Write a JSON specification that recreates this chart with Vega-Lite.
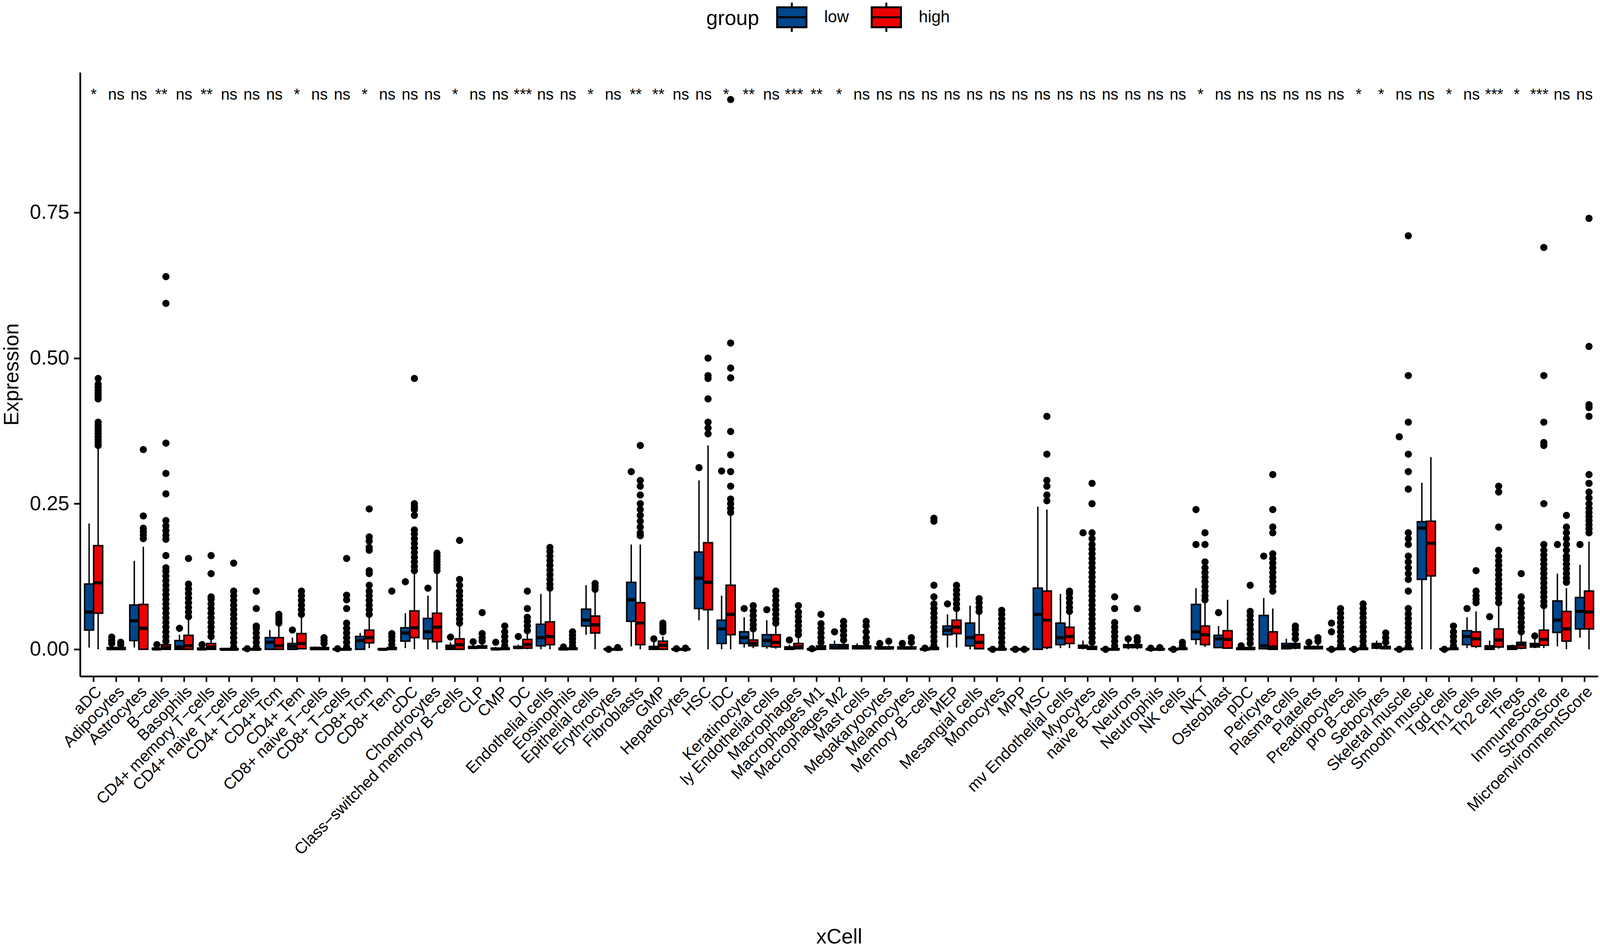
{
"$schema":"https://vega.github.io/schema/vega-lite/v6.json",
"width":3886,"height":1546,
"autosize":{"type":"none"},
"padding":{"left":205,"top":185,"right":5,"bottom":693},
"background":"white",
"config":{"view":{"stroke":null},"font":"Liberation Sans"},
"datasets":{
"box":[
{"cell":"aDC","group":"low","lo":0.003,"q1":0.033,"med":0.064,"q3":0.112,"hi":0.216},
{"cell":"aDC","group":"high","lo":0,"q1":0.062,"med":0.114,"q3":0.178,"hi":0.345},
{"cell":"Adipocytes","group":"low","lo":0,"q1":0,"med":0.001,"q3":0.003,"hi":0.006},
{"cell":"Adipocytes","group":"high","lo":0,"q1":0,"med":0.001,"q3":0.003,"hi":0.005},
{"cell":"Astrocytes","group":"low","lo":0.003,"q1":0.015,"med":0.049,"q3":0.076,"hi":0.152},
{"cell":"Astrocytes","group":"high","lo":0,"q1":0,"med":0.036,"q3":0.077,"hi":0.176},
{"cell":"B−cells","group":"low","lo":0,"q1":0,"med":0.0005,"q3":0.002,"hi":0.004},
{"cell":"B−cells","group":"high","lo":0,"q1":0,"med":0.003,"q3":0.008,"hi":0.012},
{"cell":"Basophils","group":"low","lo":0,"q1":0,"med":0.004,"q3":0.015,"hi":0.025},
{"cell":"Basophils","group":"high","lo":0,"q1":0,"med":0.006,"q3":0.024,"hi":0.052},
{"cell":"CD4+ memory T−cells","group":"low","lo":0,"q1":0,"med":0.0005,"q3":0.002,"hi":0.004},
{"cell":"CD4+ memory T−cells","group":"high","lo":0,"q1":0,"med":0.004,"q3":0.01,"hi":0.02},
{"cell":"CD4+ naive T−cells","group":"low","lo":0,"q1":0,"med":0,"q3":0.001,"hi":0.002},
{"cell":"CD4+ naive T−cells","group":"high","lo":0,"q1":0,"med":0,"q3":0.001,"hi":0.002},
{"cell":"CD4+ T−cells","group":"low","lo":0,"q1":0,"med":0,"q3":0.0005,"hi":0.001},
{"cell":"CD4+ T−cells","group":"high","lo":0,"q1":0,"med":0,"q3":0.001,"hi":0.002},
{"cell":"CD4+ Tcm","group":"low","lo":0,"q1":0,"med":0.012,"q3":0.02,"hi":0.033},
{"cell":"CD4+ Tcm","group":"high","lo":0,"q1":0,"med":0.006,"q3":0.02,"hi":0.04},
{"cell":"CD4+ Tem","group":"low","lo":0,"q1":0,"med":0.005,"q3":0.01,"hi":0.02},
{"cell":"CD4+ Tem","group":"high","lo":0,"q1":0.001,"med":0.01,"q3":0.027,"hi":0.055},
{"cell":"CD8+ naive T−cells","group":"low","lo":0,"q1":0,"med":0.001,"q3":0.003,"hi":0.005},
{"cell":"CD8+ naive T−cells","group":"high","lo":0,"q1":0,"med":0.001,"q3":0.003,"hi":0.006},
{"cell":"CD8+ T−cells","group":"low","lo":0,"q1":0,"med":0,"q3":0.0005,"hi":0.001},
{"cell":"CD8+ T−cells","group":"high","lo":0,"q1":0,"med":0,"q3":0.001,"hi":0.002},
{"cell":"CD8+ Tcm","group":"low","lo":0,"q1":0,"med":0.015,"q3":0.022,"hi":0.028},
{"cell":"CD8+ Tcm","group":"high","lo":0.002,"q1":0.011,"med":0.02,"q3":0.033,"hi":0.055},
{"cell":"CD8+ Tem","group":"low","lo":0,"q1":0,"med":0,"q3":0.001,"hi":0.002},
{"cell":"CD8+ Tem","group":"high","lo":0,"q1":0,"med":0.001,"q3":0.003,"hi":0.005},
{"cell":"cDC","group":"low","lo":0.002,"q1":0.014,"med":0.028,"q3":0.037,"hi":0.062},
{"cell":"cDC","group":"high","lo":0,"q1":0.02,"med":0.037,"q3":0.066,"hi":0.13},
{"cell":"Chondrocytes","group":"low","lo":0,"q1":0.018,"med":0.03,"q3":0.053,"hi":0.092},
{"cell":"Chondrocytes","group":"high","lo":0,"q1":0.013,"med":0.038,"q3":0.062,"hi":0.132},
{"cell":"Class−switched memory B−cells","group":"low","lo":0,"q1":0,"med":0.003,"q3":0.007,"hi":0.012},
{"cell":"Class−switched memory B−cells","group":"high","lo":0,"q1":0,"med":0.008,"q3":0.018,"hi":0.04},
{"cell":"CLP","group":"low","lo":0.001,"q1":0.002,"med":0.003,"q3":0.005,"hi":0.008},
{"cell":"CLP","group":"high","lo":0.001,"q1":0.002,"med":0.004,"q3":0.006,"hi":0.01},
{"cell":"CMP","group":"low","lo":0,"q1":0,"med":0.0005,"q3":0.002,"hi":0.004},
{"cell":"CMP","group":"high","lo":0,"q1":0,"med":0.001,"q3":0.002,"hi":0.004},
{"cell":"DC","group":"low","lo":0,"q1":0.002,"med":0.003,"q3":0.005,"hi":0.008},
{"cell":"DC","group":"high","lo":0,"q1":0.002,"med":0.008,"q3":0.017,"hi":0.028},
{"cell":"Endothelial cells","group":"low","lo":0,"q1":0.006,"med":0.02,"q3":0.043,"hi":0.095},
{"cell":"Endothelial cells","group":"high","lo":0,"q1":0.008,"med":0.022,"q3":0.047,"hi":0.1},
{"cell":"Eosinophils","group":"low","lo":0,"q1":0,"med":0.0005,"q3":0.002,"hi":0.003},
{"cell":"Eosinophils","group":"high","lo":0,"q1":0,"med":0.001,"q3":0.002,"hi":0.004},
{"cell":"Epithelial cells","group":"low","lo":0.025,"q1":0.04,"med":0.05,"q3":0.069,"hi":0.11},
{"cell":"Epithelial cells","group":"high","lo":0,"q1":0.028,"med":0.042,"q3":0.057,"hi":0.1},
{"cell":"Erythrocytes","group":"low","lo":0,"q1":0,"med":0,"q3":0.001,"hi":0.001},
{"cell":"Erythrocytes","group":"high","lo":0,"q1":0,"med":0,"q3":0.001,"hi":0.001},
{"cell":"Fibroblasts","group":"low","lo":0.005,"q1":0.048,"med":0.085,"q3":0.115,"hi":0.18},
{"cell":"Fibroblasts","group":"high","lo":0,"q1":0.008,"med":0.045,"q3":0.08,"hi":0.18},
{"cell":"GMP","group":"low","lo":0,"q1":0,"med":0.002,"q3":0.005,"hi":0.012},
{"cell":"GMP","group":"high","lo":0,"q1":0,"med":0.007,"q3":0.014,"hi":0.022},
{"cell":"Hepatocytes","group":"low","lo":0,"q1":0,"med":0,"q3":0.001,"hi":0.001},
{"cell":"Hepatocytes","group":"high","lo":0,"q1":0,"med":0,"q3":0.001,"hi":0.001},
{"cell":"HSC","group":"low","lo":0.05,"q1":0.07,"med":0.122,"q3":0.167,"hi":0.29},
{"cell":"HSC","group":"high","lo":0,"q1":0.068,"med":0.115,"q3":0.183,"hi":0.35},
{"cell":"iDC","group":"low","lo":0,"q1":0.01,"med":0.035,"q3":0.05,"hi":0.092},
{"cell":"iDC","group":"high","lo":0,"q1":0.025,"med":0.06,"q3":0.11,"hi":0.23},
{"cell":"Keratinocytes","group":"low","lo":0.003,"q1":0.01,"med":0.02,"q3":0.03,"hi":0.055},
{"cell":"Keratinocytes","group":"high","lo":0.002,"q1":0.006,"med":0.01,"q3":0.016,"hi":0.03},
{"cell":"ly Endothelial cells","group":"low","lo":0.001,"q1":0.005,"med":0.015,"q3":0.025,"hi":0.05},
{"cell":"ly Endothelial cells","group":"high","lo":0.001,"q1":0.004,"med":0.012,"q3":0.025,"hi":0.04},
{"cell":"Macrophages","group":"low","lo":0,"q1":0,"med":0.002,"q3":0.004,"hi":0.008},
{"cell":"Macrophages","group":"high","lo":0,"q1":0.001,"med":0.004,"q3":0.01,"hi":0.02},
{"cell":"Macrophages M1","group":"low","lo":0,"q1":0,"med":0,"q3":0.001,"hi":0.002},
{"cell":"Macrophages M1","group":"high","lo":0,"q1":0,"med":0.002,"q3":0.006,"hi":0.009},
{"cell":"Macrophages M2","group":"low","lo":0,"q1":0.001,"med":0.003,"q3":0.008,"hi":0.015},
{"cell":"Macrophages M2","group":"high","lo":0,"q1":0.001,"med":0.004,"q3":0.008,"hi":0.012},
{"cell":"Mast cells","group":"low","lo":0,"q1":0.001,"med":0.003,"q3":0.006,"hi":0.01},
{"cell":"Mast cells","group":"high","lo":0,"q1":0.001,"med":0.003,"q3":0.006,"hi":0.009},
{"cell":"Megakaryocytes","group":"low","lo":0,"q1":0.001,"med":0.002,"q3":0.004,"hi":0.007},
{"cell":"Megakaryocytes","group":"high","lo":0,"q1":0.001,"med":0.002,"q3":0.004,"hi":0.007},
{"cell":"Melanocytes","group":"low","lo":0,"q1":0.001,"med":0.002,"q3":0.004,"hi":0.007},
{"cell":"Melanocytes","group":"high","lo":0,"q1":0.001,"med":0.002,"q3":0.004,"hi":0.007},
{"cell":"Memory B−cells","group":"low","lo":0,"q1":0,"med":0,"q3":0.001,"hi":0.002},
{"cell":"Memory B−cells","group":"high","lo":0,"q1":0,"med":0.001,"q3":0.003,"hi":0.004},
{"cell":"MEP","group":"low","lo":0.003,"q1":0.025,"med":0.033,"q3":0.04,"hi":0.06},
{"cell":"MEP","group":"high","lo":0.003,"q1":0.027,"med":0.038,"q3":0.05,"hi":0.065},
{"cell":"Mesangial cells","group":"low","lo":0,"q1":0.006,"med":0.02,"q3":0.045,"hi":0.075},
{"cell":"Mesangial cells","group":"high","lo":0,"q1":0.001,"med":0.012,"q3":0.025,"hi":0.06},
{"cell":"Monocytes","group":"low","lo":0,"q1":0,"med":0,"q3":0.001,"hi":0.002},
{"cell":"Monocytes","group":"high","lo":0,"q1":0,"med":0,"q3":0.001,"hi":0.002},
{"cell":"MPP","group":"low","lo":0,"q1":0,"med":0,"q3":0.001,"hi":0.001},
{"cell":"MPP","group":"high","lo":0,"q1":0,"med":0,"q3":0.001,"hi":0.001},
{"cell":"MSC","group":"low","lo":0,"q1":0,"med":0.06,"q3":0.105,"hi":0.245},
{"cell":"MSC","group":"high","lo":0,"q1":0.003,"med":0.05,"q3":0.1,"hi":0.24},
{"cell":"mv Endothelial cells","group":"low","lo":0.002,"q1":0.008,"med":0.02,"q3":0.045,"hi":0.095},
{"cell":"mv Endothelial cells","group":"high","lo":0.002,"q1":0.01,"med":0.022,"q3":0.038,"hi":0.06},
{"cell":"Myocytes","group":"low","lo":0,"q1":0.002,"med":0.004,"q3":0.007,"hi":0.015},
{"cell":"Myocytes","group":"high","lo":0,"q1":0,"med":0.002,"q3":0.005,"hi":0.008},
{"cell":"naive B−cells","group":"low","lo":0,"q1":0,"med":0,"q3":0.001,"hi":0.001},
{"cell":"naive B−cells","group":"high","lo":0,"q1":0,"med":0,"q3":0.001,"hi":0.002},
{"cell":"Neurons","group":"low","lo":0,"q1":0.003,"med":0.005,"q3":0.008,"hi":0.012},
{"cell":"Neurons","group":"high","lo":0,"q1":0.003,"med":0.005,"q3":0.008,"hi":0.012},
{"cell":"Neutrophils","group":"low","lo":0,"q1":0,"med":0,"q3":0.001,"hi":0.001},
{"cell":"Neutrophils","group":"high","lo":0,"q1":0,"med":0,"q3":0.001,"hi":0.001},
{"cell":"NK cells","group":"low","lo":0,"q1":0,"med":0,"q3":0.001,"hi":0.001},
{"cell":"NK cells","group":"high","lo":0,"q1":0,"med":0.001,"q3":0.002,"hi":0.003},
{"cell":"NKT","group":"low","lo":0.008,"q1":0.017,"med":0.03,"q3":0.077,"hi":0.105},
{"cell":"NKT","group":"high","lo":0.004,"q1":0.008,"med":0.025,"q3":0.04,"hi":0.08},
{"cell":"Osteoblast","group":"low","lo":0.002,"q1":0.003,"med":0.018,"q3":0.024,"hi":0.04},
{"cell":"Osteoblast","group":"high","lo":0.001,"q1":0.002,"med":0.017,"q3":0.032,"hi":0.085},
{"cell":"pDC","group":"low","lo":0,"q1":0,"med":0.001,"q3":0.002,"hi":0.004},
{"cell":"pDC","group":"high","lo":0,"q1":0,"med":0.001,"q3":0.003,"hi":0.005},
{"cell":"Pericytes","group":"low","lo":0,"q1":0.001,"med":0.006,"q3":0.058,"hi":0.088},
{"cell":"Pericytes","group":"high","lo":0,"q1":0,"med":0.004,"q3":0.03,"hi":0.07},
{"cell":"Plasma cells","group":"low","lo":0,"q1":0.001,"med":0.005,"q3":0.01,"hi":0.018},
{"cell":"Plasma cells","group":"high","lo":0,"q1":0.002,"med":0.006,"q3":0.01,"hi":0.014},
{"cell":"Platelets","group":"low","lo":0,"q1":0.001,"med":0.003,"q3":0.005,"hi":0.008},
{"cell":"Platelets","group":"high","lo":0,"q1":0.001,"med":0.003,"q3":0.005,"hi":0.008},
{"cell":"Preadipocytes","group":"low","lo":0,"q1":0,"med":0,"q3":0.001,"hi":0.002},
{"cell":"Preadipocytes","group":"high","lo":0,"q1":0,"med":0.001,"q3":0.002,"hi":0.004},
{"cell":"pro B−cells","group":"low","lo":0,"q1":0,"med":0,"q3":0.001,"hi":0.001},
{"cell":"pro B−cells","group":"high","lo":0,"q1":0,"med":0.001,"q3":0.002,"hi":0.004},
{"cell":"Sebocytes","group":"low","lo":0,"q1":0.002,"med":0.006,"q3":0.01,"hi":0.015},
{"cell":"Sebocytes","group":"high","lo":0,"q1":0.001,"med":0.003,"q3":0.005,"hi":0.008},
{"cell":"Skeletal muscle","group":"low","lo":0,"q1":0,"med":0,"q3":0.001,"hi":0.002},
{"cell":"Skeletal muscle","group":"high","lo":0,"q1":0,"med":0.001,"q3":0.002,"hi":0.003},
{"cell":"Smooth muscle","group":"low","lo":0,"q1":0.12,"med":0.208,"q3":0.219,"hi":0.286},
{"cell":"Smooth muscle","group":"high","lo":0,"q1":0.126,"med":0.182,"q3":0.22,"hi":0.33},
{"cell":"Tgd cells","group":"low","lo":0,"q1":0,"med":0,"q3":0.001,"hi":0.001},
{"cell":"Tgd cells","group":"high","lo":0,"q1":0,"med":0.001,"q3":0.002,"hi":0.003},
{"cell":"Th1 cells","group":"low","lo":0.002,"q1":0.008,"med":0.022,"q3":0.032,"hi":0.055},
{"cell":"Th1 cells","group":"high","lo":0.002,"q1":0.005,"med":0.018,"q3":0.03,"hi":0.065},
{"cell":"Th2 cells","group":"low","lo":0,"q1":0,"med":0.002,"q3":0.006,"hi":0.015},
{"cell":"Th2 cells","group":"high","lo":0.001,"q1":0.004,"med":0.016,"q3":0.035,"hi":0.075},
{"cell":"Tregs","group":"low","lo":0,"q1":0,"med":0.002,"q3":0.006,"hi":0.008},
{"cell":"Tregs","group":"high","lo":0,"q1":0.002,"med":0.008,"q3":0.012,"hi":0.025},
{"cell":"ImmuneScore","group":"low","lo":0.002,"q1":0.004,"med":0.007,"q3":0.01,"hi":0.018},
{"cell":"ImmuneScore","group":"high","lo":0.002,"q1":0.007,"med":0.017,"q3":0.033,"hi":0.07},
{"cell":"StromaScore","group":"low","lo":0.005,"q1":0.029,"med":0.05,"q3":0.083,"hi":0.13},
{"cell":"StromaScore","group":"high","lo":0,"q1":0.014,"med":0.035,"q3":0.065,"hi":0.105},
{"cell":"MicroenvironmentScore","group":"low","lo":0.02,"q1":0.035,"med":0.065,"q3":0.089,"hi":0.145},
{"cell":"MicroenvironmentScore","group":"high","lo":0,"q1":0.035,"med":0.064,"q3":0.1,"hi":0.185}
],
"out":[
{"cell":"aDC","group":"high","v":0.35},{"cell":"aDC","group":"high","v":0.355},{"cell":"aDC","group":"high","v":0.36},{"cell":"aDC","group":"high","v":0.365},{"cell":"aDC","group":"high","v":0.37},{"cell":"aDC","group":"high","v":0.375},{"cell":"aDC","group":"high","v":0.38},{"cell":"aDC","group":"high","v":0.385},{"cell":"aDC","group":"high","v":0.39},{"cell":"aDC","group":"high","v":0.43},{"cell":"aDC","group":"high","v":0.435},{"cell":"aDC","group":"high","v":0.44},{"cell":"aDC","group":"high","v":0.445},{"cell":"aDC","group":"high","v":0.45},{"cell":"aDC","group":"high","v":0.455},{"cell":"aDC","group":"high","v":0.465},
{"cell":"Adipocytes","group":"low","v":0.01},{"cell":"Adipocytes","group":"low","v":0.015},{"cell":"Adipocytes","group":"low","v":0.021},{"cell":"Adipocytes","group":"high","v":0.008},{"cell":"Adipocytes","group":"high","v":0.012},
{"cell":"Astrocytes","group":"high","v":0.19},{"cell":"Astrocytes","group":"high","v":0.196},{"cell":"Astrocytes","group":"high","v":0.202},{"cell":"Astrocytes","group":"high","v":0.208},{"cell":"Astrocytes","group":"high","v":0.229},{"cell":"Astrocytes","group":"high","v":0.343},
{"cell":"B−cells","group":"low","v":0.008},{"cell":"B−cells","group":"high","v":0.014},{"cell":"B−cells","group":"high","v":0.022},{"cell":"B−cells","group":"high","v":0.03},{"cell":"B−cells","group":"high","v":0.038},{"cell":"B−cells","group":"high","v":0.046},{"cell":"B−cells","group":"high","v":0.054},{"cell":"B−cells","group":"high","v":0.062},{"cell":"B−cells","group":"high","v":0.07},{"cell":"B−cells","group":"high","v":0.078},{"cell":"B−cells","group":"high","v":0.086},{"cell":"B−cells","group":"high","v":0.094},{"cell":"B−cells","group":"high","v":0.102},{"cell":"B−cells","group":"high","v":0.11},{"cell":"B−cells","group":"high","v":0.118},{"cell":"B−cells","group":"high","v":0.126},{"cell":"B−cells","group":"high","v":0.134},{"cell":"B−cells","group":"high","v":0.14},{"cell":"B−cells","group":"high","v":0.161},{"cell":"B−cells","group":"high","v":0.189},{"cell":"B−cells","group":"high","v":0.196},{"cell":"B−cells","group":"high","v":0.204},{"cell":"B−cells","group":"high","v":0.212},{"cell":"B−cells","group":"high","v":0.221},{"cell":"B−cells","group":"high","v":0.267},{"cell":"B−cells","group":"high","v":0.302},{"cell":"B−cells","group":"high","v":0.354},{"cell":"B−cells","group":"high","v":0.594},{"cell":"B−cells","group":"high","v":0.64},
{"cell":"Basophils","group":"low","v":0.036},{"cell":"Basophils","group":"high","v":0.056},{"cell":"Basophils","group":"high","v":0.064},{"cell":"Basophils","group":"high","v":0.072},{"cell":"Basophils","group":"high","v":0.08},{"cell":"Basophils","group":"high","v":0.088},{"cell":"Basophils","group":"high","v":0.096},{"cell":"Basophils","group":"high","v":0.104},{"cell":"Basophils","group":"high","v":0.112},{"cell":"Basophils","group":"high","v":0.156},
{"cell":"CD4+ memory T−cells","group":"low","v":0.008},{"cell":"CD4+ memory T−cells","group":"high","v":0.022},{"cell":"CD4+ memory T−cells","group":"high","v":0.03},{"cell":"CD4+ memory T−cells","group":"high","v":0.038},{"cell":"CD4+ memory T−cells","group":"high","v":0.046},{"cell":"CD4+ memory T−cells","group":"high","v":0.054},{"cell":"CD4+ memory T−cells","group":"high","v":0.062},{"cell":"CD4+ memory T−cells","group":"high","v":0.07},{"cell":"CD4+ memory T−cells","group":"high","v":0.078},{"cell":"CD4+ memory T−cells","group":"high","v":0.086},{"cell":"CD4+ memory T−cells","group":"high","v":0.09},{"cell":"CD4+ memory T−cells","group":"high","v":0.13},{"cell":"CD4+ memory T−cells","group":"high","v":0.161},
{"cell":"CD4+ naive T−cells","group":"high","v":0.004},{"cell":"CD4+ naive T−cells","group":"high","v":0.012},{"cell":"CD4+ naive T−cells","group":"high","v":0.02},{"cell":"CD4+ naive T−cells","group":"high","v":0.028},{"cell":"CD4+ naive T−cells","group":"high","v":0.036},{"cell":"CD4+ naive T−cells","group":"high","v":0.044},{"cell":"CD4+ naive T−cells","group":"high","v":0.052},{"cell":"CD4+ naive T−cells","group":"high","v":0.06},{"cell":"CD4+ naive T−cells","group":"high","v":0.068},{"cell":"CD4+ naive T−cells","group":"high","v":0.076},{"cell":"CD4+ naive T−cells","group":"high","v":0.084},{"cell":"CD4+ naive T−cells","group":"high","v":0.092},{"cell":"CD4+ naive T−cells","group":"high","v":0.1},{"cell":"CD4+ naive T−cells","group":"high","v":0.148},
{"cell":"CD4+ T−cells","group":"low","v":0.001},{"cell":"CD4+ T−cells","group":"high","v":0.004},{"cell":"CD4+ T−cells","group":"high","v":0.012},{"cell":"CD4+ T−cells","group":"high","v":0.02},{"cell":"CD4+ T−cells","group":"high","v":0.028},{"cell":"CD4+ T−cells","group":"high","v":0.036},{"cell":"CD4+ T−cells","group":"high","v":0.04},{"cell":"CD4+ T−cells","group":"high","v":0.07},{"cell":"CD4+ T−cells","group":"high","v":0.1},
{"cell":"CD4+ Tcm","group":"high","v":0.045},{"cell":"CD4+ Tcm","group":"high","v":0.05},{"cell":"CD4+ Tcm","group":"high","v":0.055},{"cell":"CD4+ Tcm","group":"high","v":0.06},
{"cell":"CD4+ Tem","group":"low","v":0.033},{"cell":"CD4+ Tem","group":"high","v":0.06},{"cell":"CD4+ Tem","group":"high","v":0.068},{"cell":"CD4+ Tem","group":"high","v":0.076},{"cell":"CD4+ Tem","group":"high","v":0.084},{"cell":"CD4+ Tem","group":"high","v":0.092},{"cell":"CD4+ Tem","group":"high","v":0.1},
{"cell":"CD8+ naive T−cells","group":"high","v":0.01},{"cell":"CD8+ naive T−cells","group":"high","v":0.015},{"cell":"CD8+ naive T−cells","group":"high","v":0.02},
{"cell":"CD8+ T−cells","group":"low","v":0.001},{"cell":"CD8+ T−cells","group":"high","v":0.004},{"cell":"CD8+ T−cells","group":"high","v":0.012},{"cell":"CD8+ T−cells","group":"high","v":0.02},{"cell":"CD8+ T−cells","group":"high","v":0.028},{"cell":"CD8+ T−cells","group":"high","v":0.036},{"cell":"CD8+ T−cells","group":"high","v":0.045},{"cell":"CD8+ T−cells","group":"high","v":0.07},{"cell":"CD8+ T−cells","group":"high","v":0.085},{"cell":"CD8+ T−cells","group":"high","v":0.093},{"cell":"CD8+ T−cells","group":"high","v":0.156},
{"cell":"CD8+ Tcm","group":"high","v":0.06},{"cell":"CD8+ Tcm","group":"high","v":0.068},{"cell":"CD8+ Tcm","group":"high","v":0.076},{"cell":"CD8+ Tcm","group":"high","v":0.084},{"cell":"CD8+ Tcm","group":"high","v":0.092},{"cell":"CD8+ Tcm","group":"high","v":0.1},{"cell":"CD8+ Tcm","group":"high","v":0.11},{"cell":"CD8+ Tcm","group":"high","v":0.13},{"cell":"CD8+ Tcm","group":"high","v":0.135},{"cell":"CD8+ Tcm","group":"high","v":0.17},{"cell":"CD8+ Tcm","group":"high","v":0.175},{"cell":"CD8+ Tcm","group":"high","v":0.186},{"cell":"CD8+ Tcm","group":"high","v":0.193},{"cell":"CD8+ Tcm","group":"high","v":0.241},
{"cell":"CD8+ Tem","group":"high","v":0.008},{"cell":"CD8+ Tem","group":"high","v":0.015},{"cell":"CD8+ Tem","group":"high","v":0.022},{"cell":"CD8+ Tem","group":"high","v":0.027},{"cell":"CD8+ Tem","group":"high","v":0.1},
{"cell":"cDC","group":"low","v":0.116},{"cell":"cDC","group":"high","v":0.135},{"cell":"cDC","group":"high","v":0.142},{"cell":"cDC","group":"high","v":0.15},{"cell":"cDC","group":"high","v":0.158},{"cell":"cDC","group":"high","v":0.166},{"cell":"cDC","group":"high","v":0.174},{"cell":"cDC","group":"high","v":0.182},{"cell":"cDC","group":"high","v":0.19},{"cell":"cDC","group":"high","v":0.198},{"cell":"cDC","group":"high","v":0.205},{"cell":"cDC","group":"high","v":0.23},{"cell":"cDC","group":"high","v":0.24},{"cell":"cDC","group":"high","v":0.245},{"cell":"cDC","group":"high","v":0.25},{"cell":"cDC","group":"high","v":0.465},
{"cell":"Chondrocytes","group":"low","v":0.105},{"cell":"Chondrocytes","group":"high","v":0.135},{"cell":"Chondrocytes","group":"high","v":0.14},{"cell":"Chondrocytes","group":"high","v":0.145},{"cell":"Chondrocytes","group":"high","v":0.15},{"cell":"Chondrocytes","group":"high","v":0.155},{"cell":"Chondrocytes","group":"high","v":0.16},{"cell":"Chondrocytes","group":"high","v":0.165},
{"cell":"Class−switched memory B−cells","group":"low","v":0.021},{"cell":"Class−switched memory B−cells","group":"high","v":0.045},{"cell":"Class−switched memory B−cells","group":"high","v":0.052},{"cell":"Class−switched memory B−cells","group":"high","v":0.06},{"cell":"Class−switched memory B−cells","group":"high","v":0.068},{"cell":"Class−switched memory B−cells","group":"high","v":0.076},{"cell":"Class−switched memory B−cells","group":"high","v":0.084},{"cell":"Class−switched memory B−cells","group":"high","v":0.092},{"cell":"Class−switched memory B−cells","group":"high","v":0.1},{"cell":"Class−switched memory B−cells","group":"high","v":0.11},{"cell":"Class−switched memory B−cells","group":"high","v":0.12},{"cell":"Class−switched memory B−cells","group":"high","v":0.187},
{"cell":"CLP","group":"low","v":0.013},{"cell":"CLP","group":"high","v":0.014},{"cell":"CLP","group":"high","v":0.02},{"cell":"CLP","group":"high","v":0.027},{"cell":"CLP","group":"high","v":0.063},
{"cell":"CMP","group":"low","v":0.012},{"cell":"CMP","group":"high","v":0.006},{"cell":"CMP","group":"high","v":0.014},{"cell":"CMP","group":"high","v":0.022},{"cell":"CMP","group":"high","v":0.03},{"cell":"CMP","group":"high","v":0.04},
{"cell":"DC","group":"low","v":0.022},{"cell":"DC","group":"high","v":0.032},{"cell":"DC","group":"high","v":0.04},{"cell":"DC","group":"high","v":0.048},{"cell":"DC","group":"high","v":0.055},{"cell":"DC","group":"high","v":0.07},{"cell":"DC","group":"high","v":0.1},
{"cell":"Endothelial cells","group":"high","v":0.105},{"cell":"Endothelial cells","group":"high","v":0.112},{"cell":"Endothelial cells","group":"high","v":0.12},{"cell":"Endothelial cells","group":"high","v":0.128},{"cell":"Endothelial cells","group":"high","v":0.136},{"cell":"Endothelial cells","group":"high","v":0.144},{"cell":"Endothelial cells","group":"high","v":0.152},{"cell":"Endothelial cells","group":"high","v":0.16},{"cell":"Endothelial cells","group":"high","v":0.168},{"cell":"Endothelial cells","group":"high","v":0.175},
{"cell":"Eosinophils","group":"low","v":0.004},{"cell":"Eosinophils","group":"high","v":0.006},{"cell":"Eosinophils","group":"high","v":0.012},{"cell":"Eosinophils","group":"high","v":0.018},{"cell":"Eosinophils","group":"high","v":0.024},{"cell":"Eosinophils","group":"high","v":0.03},
{"cell":"Epithelial cells","group":"high","v":0.103},{"cell":"Epithelial cells","group":"high","v":0.108},{"cell":"Epithelial cells","group":"high","v":0.113},
{"cell":"Erythrocytes","group":"low","v":0},{"cell":"Erythrocytes","group":"high","v":0.003},
{"cell":"Fibroblasts","group":"low","v":0.305},{"cell":"Fibroblasts","group":"high","v":0.195},{"cell":"Fibroblasts","group":"high","v":0.2},{"cell":"Fibroblasts","group":"high","v":0.21},{"cell":"Fibroblasts","group":"high","v":0.22},{"cell":"Fibroblasts","group":"high","v":0.23},{"cell":"Fibroblasts","group":"high","v":0.24},{"cell":"Fibroblasts","group":"high","v":0.25},{"cell":"Fibroblasts","group":"high","v":0.265},{"cell":"Fibroblasts","group":"high","v":0.28},{"cell":"Fibroblasts","group":"high","v":0.29},{"cell":"Fibroblasts","group":"high","v":0.35},
{"cell":"GMP","group":"low","v":0.018},{"cell":"GMP","group":"high","v":0.03},{"cell":"GMP","group":"high","v":0.035},{"cell":"GMP","group":"high","v":0.04},{"cell":"GMP","group":"high","v":0.045},
{"cell":"Hepatocytes","group":"low","v":0.001},{"cell":"Hepatocytes","group":"high","v":0.002},
{"cell":"HSC","group":"low","v":0.312},{"cell":"HSC","group":"high","v":0.37},{"cell":"HSC","group":"high","v":0.38},{"cell":"HSC","group":"high","v":0.39},{"cell":"HSC","group":"high","v":0.43},{"cell":"HSC","group":"high","v":0.465},{"cell":"HSC","group":"high","v":0.47},{"cell":"HSC","group":"high","v":0.5},
{"cell":"iDC","group":"low","v":0.306},{"cell":"iDC","group":"high","v":0.235},{"cell":"iDC","group":"high","v":0.242},{"cell":"iDC","group":"high","v":0.25},{"cell":"iDC","group":"high","v":0.258},{"cell":"iDC","group":"high","v":0.28},{"cell":"iDC","group":"high","v":0.305},{"cell":"iDC","group":"high","v":0.334},{"cell":"iDC","group":"high","v":0.374},{"cell":"iDC","group":"high","v":0.466},{"cell":"iDC","group":"high","v":0.483},{"cell":"iDC","group":"high","v":0.526},{"cell":"iDC","group":"high","v":0.944},
{"cell":"Keratinocytes","group":"low","v":0.07},{"cell":"Keratinocytes","group":"high","v":0.035},{"cell":"Keratinocytes","group":"high","v":0.042},{"cell":"Keratinocytes","group":"high","v":0.05},{"cell":"Keratinocytes","group":"high","v":0.058},{"cell":"Keratinocytes","group":"high","v":0.066},{"cell":"Keratinocytes","group":"high","v":0.075},
{"cell":"ly Endothelial cells","group":"low","v":0.068},{"cell":"ly Endothelial cells","group":"high","v":0.045},{"cell":"ly Endothelial cells","group":"high","v":0.052},{"cell":"ly Endothelial cells","group":"high","v":0.06},{"cell":"ly Endothelial cells","group":"high","v":0.068},{"cell":"ly Endothelial cells","group":"high","v":0.076},{"cell":"ly Endothelial cells","group":"high","v":0.084},{"cell":"ly Endothelial cells","group":"high","v":0.092},{"cell":"ly Endothelial cells","group":"high","v":0.1},
{"cell":"Macrophages","group":"low","v":0.016},{"cell":"Macrophages","group":"high","v":0.025},{"cell":"Macrophages","group":"high","v":0.032},{"cell":"Macrophages","group":"high","v":0.04},{"cell":"Macrophages","group":"high","v":0.048},{"cell":"Macrophages","group":"high","v":0.056},{"cell":"Macrophages","group":"high","v":0.064},{"cell":"Macrophages","group":"high","v":0.075},
{"cell":"Macrophages M1","group":"low","v":0.001},{"cell":"Macrophages M1","group":"high","v":0.012},{"cell":"Macrophages M1","group":"high","v":0.02},{"cell":"Macrophages M1","group":"high","v":0.028},{"cell":"Macrophages M1","group":"high","v":0.036},{"cell":"Macrophages M1","group":"high","v":0.044},{"cell":"Macrophages M1","group":"high","v":0.06},
{"cell":"Macrophages M2","group":"low","v":0.03},{"cell":"Macrophages M2","group":"high","v":0.016},{"cell":"Macrophages M2","group":"high","v":0.024},{"cell":"Macrophages M2","group":"high","v":0.032},{"cell":"Macrophages M2","group":"high","v":0.04},{"cell":"Macrophages M2","group":"high","v":0.048},
{"cell":"Mast cells","group":"high","v":0.012},{"cell":"Mast cells","group":"high","v":0.02},{"cell":"Mast cells","group":"high","v":0.03},{"cell":"Mast cells","group":"high","v":0.04},{"cell":"Mast cells","group":"high","v":0.048},
{"cell":"Megakaryocytes","group":"low","v":0.01},{"cell":"Megakaryocytes","group":"high","v":0.014},
{"cell":"Melanocytes","group":"low","v":0.01},{"cell":"Melanocytes","group":"high","v":0.012},{"cell":"Melanocytes","group":"high","v":0.02},
{"cell":"Memory B−cells","group":"low","v":0.002},{"cell":"Memory B−cells","group":"high","v":0.006},{"cell":"Memory B−cells","group":"high","v":0.014},{"cell":"Memory B−cells","group":"high","v":0.022},{"cell":"Memory B−cells","group":"high","v":0.03},{"cell":"Memory B−cells","group":"high","v":0.038},{"cell":"Memory B−cells","group":"high","v":0.046},{"cell":"Memory B−cells","group":"high","v":0.054},{"cell":"Memory B−cells","group":"high","v":0.062},{"cell":"Memory B−cells","group":"high","v":0.07},{"cell":"Memory B−cells","group":"high","v":0.078},{"cell":"Memory B−cells","group":"high","v":0.09},{"cell":"Memory B−cells","group":"high","v":0.11},{"cell":"Memory B−cells","group":"high","v":0.22},{"cell":"Memory B−cells","group":"high","v":0.225},
{"cell":"MEP","group":"low","v":0.078},{"cell":"MEP","group":"high","v":0.07},{"cell":"MEP","group":"high","v":0.078},{"cell":"MEP","group":"high","v":0.086},{"cell":"MEP","group":"high","v":0.094},{"cell":"MEP","group":"high","v":0.102},{"cell":"MEP","group":"high","v":0.11},
{"cell":"Mesangial cells","group":"high","v":0.065},{"cell":"Mesangial cells","group":"high","v":0.072},{"cell":"Mesangial cells","group":"high","v":0.08},{"cell":"Mesangial cells","group":"high","v":0.087},
{"cell":"Monocytes","group":"low","v":0},{"cell":"Monocytes","group":"high","v":0.004},{"cell":"Monocytes","group":"high","v":0.012},{"cell":"Monocytes","group":"high","v":0.02},{"cell":"Monocytes","group":"high","v":0.028},{"cell":"Monocytes","group":"high","v":0.036},{"cell":"Monocytes","group":"high","v":0.044},{"cell":"Monocytes","group":"high","v":0.052},{"cell":"Monocytes","group":"high","v":0.06},{"cell":"Monocytes","group":"high","v":0.067},
{"cell":"MPP","group":"low","v":0},{"cell":"MPP","group":"high","v":0},
{"cell":"MSC","group":"high","v":0.255},{"cell":"MSC","group":"high","v":0.265},{"cell":"MSC","group":"high","v":0.28},{"cell":"MSC","group":"high","v":0.29},{"cell":"MSC","group":"high","v":0.335},{"cell":"MSC","group":"high","v":0.4},
{"cell":"mv Endothelial cells","group":"high","v":0.065},{"cell":"mv Endothelial cells","group":"high","v":0.072},{"cell":"mv Endothelial cells","group":"high","v":0.08},{"cell":"mv Endothelial cells","group":"high","v":0.088},{"cell":"mv Endothelial cells","group":"high","v":0.096},{"cell":"mv Endothelial cells","group":"high","v":0.1},
{"cell":"Myocytes","group":"low","v":0.2},{"cell":"Myocytes","group":"high","v":0.012},{"cell":"Myocytes","group":"high","v":0.02},{"cell":"Myocytes","group":"high","v":0.028},{"cell":"Myocytes","group":"high","v":0.036},{"cell":"Myocytes","group":"high","v":0.044},{"cell":"Myocytes","group":"high","v":0.052},{"cell":"Myocytes","group":"high","v":0.06},{"cell":"Myocytes","group":"high","v":0.068},{"cell":"Myocytes","group":"high","v":0.076},{"cell":"Myocytes","group":"high","v":0.084},{"cell":"Myocytes","group":"high","v":0.092},{"cell":"Myocytes","group":"high","v":0.1},{"cell":"Myocytes","group":"high","v":0.108},{"cell":"Myocytes","group":"high","v":0.116},{"cell":"Myocytes","group":"high","v":0.124},{"cell":"Myocytes","group":"high","v":0.132},{"cell":"Myocytes","group":"high","v":0.14},{"cell":"Myocytes","group":"high","v":0.148},{"cell":"Myocytes","group":"high","v":0.156},{"cell":"Myocytes","group":"high","v":0.164},{"cell":"Myocytes","group":"high","v":0.172},{"cell":"Myocytes","group":"high","v":0.18},{"cell":"Myocytes","group":"high","v":0.19},{"cell":"Myocytes","group":"high","v":0.2},{"cell":"Myocytes","group":"high","v":0.25},{"cell":"Myocytes","group":"high","v":0.285},
{"cell":"naive B−cells","group":"low","v":0},{"cell":"naive B−cells","group":"high","v":0.006},{"cell":"naive B−cells","group":"high","v":0.014},{"cell":"naive B−cells","group":"high","v":0.022},{"cell":"naive B−cells","group":"high","v":0.03},{"cell":"naive B−cells","group":"high","v":0.038},{"cell":"naive B−cells","group":"high","v":0.046},{"cell":"naive B−cells","group":"high","v":0.07},{"cell":"naive B−cells","group":"high","v":0.09},
{"cell":"Neurons","group":"low","v":0.018},{"cell":"Neurons","group":"high","v":0.014},{"cell":"Neurons","group":"high","v":0.02},{"cell":"Neurons","group":"high","v":0.07},
{"cell":"Neutrophils","group":"low","v":0.002},{"cell":"Neutrophils","group":"high","v":0.003},
{"cell":"NK cells","group":"low","v":0},{"cell":"NK cells","group":"high","v":0.006},{"cell":"NK cells","group":"high","v":0.012},
{"cell":"NKT","group":"low","v":0.18},{"cell":"NKT","group":"low","v":0.24},{"cell":"NKT","group":"high","v":0.085},{"cell":"NKT","group":"high","v":0.092},{"cell":"NKT","group":"high","v":0.1},{"cell":"NKT","group":"high","v":0.108},{"cell":"NKT","group":"high","v":0.116},{"cell":"NKT","group":"high","v":0.124},{"cell":"NKT","group":"high","v":0.132},{"cell":"NKT","group":"high","v":0.14},{"cell":"NKT","group":"high","v":0.15},{"cell":"NKT","group":"high","v":0.18},{"cell":"NKT","group":"high","v":0.2},
{"cell":"Osteoblast","group":"low","v":0.063},
{"cell":"pDC","group":"low","v":0.006},{"cell":"pDC","group":"high","v":0.01},{"cell":"pDC","group":"high","v":0.018},{"cell":"pDC","group":"high","v":0.026},{"cell":"pDC","group":"high","v":0.034},{"cell":"pDC","group":"high","v":0.042},{"cell":"pDC","group":"high","v":0.05},{"cell":"pDC","group":"high","v":0.058},{"cell":"pDC","group":"high","v":0.065},{"cell":"pDC","group":"high","v":0.11},
{"cell":"Pericytes","group":"low","v":0.16},{"cell":"Pericytes","group":"high","v":0.1},{"cell":"Pericytes","group":"high","v":0.108},{"cell":"Pericytes","group":"high","v":0.116},{"cell":"Pericytes","group":"high","v":0.124},{"cell":"Pericytes","group":"high","v":0.132},{"cell":"Pericytes","group":"high","v":0.14},{"cell":"Pericytes","group":"high","v":0.148},{"cell":"Pericytes","group":"high","v":0.156},{"cell":"Pericytes","group":"high","v":0.164},{"cell":"Pericytes","group":"high","v":0.2},{"cell":"Pericytes","group":"high","v":0.21},{"cell":"Pericytes","group":"high","v":0.24},{"cell":"Pericytes","group":"high","v":0.3},
{"cell":"Plasma cells","group":"high","v":0.018},{"cell":"Plasma cells","group":"high","v":0.026},{"cell":"Plasma cells","group":"high","v":0.034},{"cell":"Plasma cells","group":"high","v":0.04},
{"cell":"Platelets","group":"low","v":0.012},{"cell":"Platelets","group":"high","v":0.014},{"cell":"Platelets","group":"high","v":0.02},
{"cell":"Preadipocytes","group":"low","v":0},{"cell":"Preadipocytes","group":"low","v":0.03},{"cell":"Preadipocytes","group":"low","v":0.045},{"cell":"Preadipocytes","group":"high","v":0.006},{"cell":"Preadipocytes","group":"high","v":0.014},{"cell":"Preadipocytes","group":"high","v":0.022},{"cell":"Preadipocytes","group":"high","v":0.03},{"cell":"Preadipocytes","group":"high","v":0.038},{"cell":"Preadipocytes","group":"high","v":0.046},{"cell":"Preadipocytes","group":"high","v":0.054},{"cell":"Preadipocytes","group":"high","v":0.062},{"cell":"Preadipocytes","group":"high","v":0.07},
{"cell":"pro B−cells","group":"low","v":0},{"cell":"pro B−cells","group":"high","v":0.006},{"cell":"pro B−cells","group":"high","v":0.014},{"cell":"pro B−cells","group":"high","v":0.022},{"cell":"pro B−cells","group":"high","v":0.03},{"cell":"pro B−cells","group":"high","v":0.038},{"cell":"pro B−cells","group":"high","v":0.046},{"cell":"pro B−cells","group":"high","v":0.054},{"cell":"pro B−cells","group":"high","v":0.062},{"cell":"pro B−cells","group":"high","v":0.07},{"cell":"pro B−cells","group":"high","v":0.078},
{"cell":"Sebocytes","group":"high","v":0.012},{"cell":"Sebocytes","group":"high","v":0.02},{"cell":"Sebocytes","group":"high","v":0.028},
{"cell":"Skeletal muscle","group":"low","v":0},{"cell":"Skeletal muscle","group":"low","v":0.365},{"cell":"Skeletal muscle","group":"high","v":0.005},{"cell":"Skeletal muscle","group":"high","v":0.013},{"cell":"Skeletal muscle","group":"high","v":0.021},{"cell":"Skeletal muscle","group":"high","v":0.029},{"cell":"Skeletal muscle","group":"high","v":0.037},{"cell":"Skeletal muscle","group":"high","v":0.045},{"cell":"Skeletal muscle","group":"high","v":0.053},{"cell":"Skeletal muscle","group":"high","v":0.061},{"cell":"Skeletal muscle","group":"high","v":0.07},{"cell":"Skeletal muscle","group":"high","v":0.1},{"cell":"Skeletal muscle","group":"high","v":0.12},{"cell":"Skeletal muscle","group":"high","v":0.13},{"cell":"Skeletal muscle","group":"high","v":0.14},{"cell":"Skeletal muscle","group":"high","v":0.15},{"cell":"Skeletal muscle","group":"high","v":0.16},{"cell":"Skeletal muscle","group":"high","v":0.18},{"cell":"Skeletal muscle","group":"high","v":0.19},{"cell":"Skeletal muscle","group":"high","v":0.2},{"cell":"Skeletal muscle","group":"high","v":0.275},{"cell":"Skeletal muscle","group":"high","v":0.305},{"cell":"Skeletal muscle","group":"high","v":0.335},{"cell":"Skeletal muscle","group":"high","v":0.39},{"cell":"Skeletal muscle","group":"high","v":0.47},{"cell":"Skeletal muscle","group":"high","v":0.71},
{"cell":"Tgd cells","group":"low","v":0},{"cell":"Tgd cells","group":"high","v":0.006},{"cell":"Tgd cells","group":"high","v":0.014},{"cell":"Tgd cells","group":"high","v":0.022},{"cell":"Tgd cells","group":"high","v":0.03},{"cell":"Tgd cells","group":"high","v":0.04},
{"cell":"Th1 cells","group":"low","v":0.07},{"cell":"Th1 cells","group":"high","v":0.08},{"cell":"Th1 cells","group":"high","v":0.086},{"cell":"Th1 cells","group":"high","v":0.092},{"cell":"Th1 cells","group":"high","v":0.1},{"cell":"Th1 cells","group":"high","v":0.135},
{"cell":"Th2 cells","group":"low","v":0.056},{"cell":"Th2 cells","group":"high","v":0.08},{"cell":"Th2 cells","group":"high","v":0.088},{"cell":"Th2 cells","group":"high","v":0.096},{"cell":"Th2 cells","group":"high","v":0.104},{"cell":"Th2 cells","group":"high","v":0.112},{"cell":"Th2 cells","group":"high","v":0.12},{"cell":"Th2 cells","group":"high","v":0.128},{"cell":"Th2 cells","group":"high","v":0.136},{"cell":"Th2 cells","group":"high","v":0.144},{"cell":"Th2 cells","group":"high","v":0.152},{"cell":"Th2 cells","group":"high","v":0.16},{"cell":"Th2 cells","group":"high","v":0.17},{"cell":"Th2 cells","group":"high","v":0.21},{"cell":"Th2 cells","group":"high","v":0.27},{"cell":"Th2 cells","group":"high","v":0.28},
{"cell":"Tregs","group":"high","v":0.03},{"cell":"Tregs","group":"high","v":0.038},{"cell":"Tregs","group":"high","v":0.046},{"cell":"Tregs","group":"high","v":0.054},{"cell":"Tregs","group":"high","v":0.062},{"cell":"Tregs","group":"high","v":0.07},{"cell":"Tregs","group":"high","v":0.08},{"cell":"Tregs","group":"high","v":0.09},{"cell":"Tregs","group":"high","v":0.13},
{"cell":"ImmuneScore","group":"low","v":0.023},{"cell":"ImmuneScore","group":"high","v":0.075},{"cell":"ImmuneScore","group":"high","v":0.082},{"cell":"ImmuneScore","group":"high","v":0.09},{"cell":"ImmuneScore","group":"high","v":0.098},{"cell":"ImmuneScore","group":"high","v":0.106},{"cell":"ImmuneScore","group":"high","v":0.114},{"cell":"ImmuneScore","group":"high","v":0.122},{"cell":"ImmuneScore","group":"high","v":0.13},{"cell":"ImmuneScore","group":"high","v":0.138},{"cell":"ImmuneScore","group":"high","v":0.146},{"cell":"ImmuneScore","group":"high","v":0.154},{"cell":"ImmuneScore","group":"high","v":0.162},{"cell":"ImmuneScore","group":"high","v":0.17},{"cell":"ImmuneScore","group":"high","v":0.18},{"cell":"ImmuneScore","group":"high","v":0.25},{"cell":"ImmuneScore","group":"high","v":0.35},{"cell":"ImmuneScore","group":"high","v":0.355},{"cell":"ImmuneScore","group":"high","v":0.39},{"cell":"ImmuneScore","group":"high","v":0.47},{"cell":"ImmuneScore","group":"high","v":0.69},
{"cell":"StromaScore","group":"low","v":0.18},{"cell":"StromaScore","group":"high","v":0.115},{"cell":"StromaScore","group":"high","v":0.122},{"cell":"StromaScore","group":"high","v":0.13},{"cell":"StromaScore","group":"high","v":0.138},{"cell":"StromaScore","group":"high","v":0.146},{"cell":"StromaScore","group":"high","v":0.154},{"cell":"StromaScore","group":"high","v":0.16},{"cell":"StromaScore","group":"high","v":0.17},{"cell":"StromaScore","group":"high","v":0.18},{"cell":"StromaScore","group":"high","v":0.19},{"cell":"StromaScore","group":"high","v":0.2},{"cell":"StromaScore","group":"high","v":0.21},{"cell":"StromaScore","group":"high","v":0.23},
{"cell":"MicroenvironmentScore","group":"low","v":0.18},{"cell":"MicroenvironmentScore","group":"high","v":0.2},{"cell":"MicroenvironmentScore","group":"high","v":0.207},{"cell":"MicroenvironmentScore","group":"high","v":0.214},{"cell":"MicroenvironmentScore","group":"high","v":0.221},{"cell":"MicroenvironmentScore","group":"high","v":0.228},{"cell":"MicroenvironmentScore","group":"high","v":0.235},{"cell":"MicroenvironmentScore","group":"high","v":0.242},{"cell":"MicroenvironmentScore","group":"high","v":0.25},{"cell":"MicroenvironmentScore","group":"high","v":0.26},{"cell":"MicroenvironmentScore","group":"high","v":0.27},{"cell":"MicroenvironmentScore","group":"high","v":0.285},{"cell":"MicroenvironmentScore","group":"high","v":0.3},{"cell":"MicroenvironmentScore","group":"high","v":0.4},{"cell":"MicroenvironmentScore","group":"high","v":0.415},{"cell":"MicroenvironmentScore","group":"high","v":0.42},{"cell":"MicroenvironmentScore","group":"high","v":0.52},{"cell":"MicroenvironmentScore","group":"high","v":0.74}
],
"sig":[
{"cell":"aDC","label":"*"},{"cell":"Adipocytes","label":"ns"},{"cell":"Astrocytes","label":"ns"},{"cell":"B−cells","label":"**"},{"cell":"Basophils","label":"ns"},{"cell":"CD4+ memory T−cells","label":"**"},{"cell":"CD4+ naive T−cells","label":"ns"},{"cell":"CD4+ T−cells","label":"ns"},{"cell":"CD4+ Tcm","label":"ns"},{"cell":"CD4+ Tem","label":"*"},{"cell":"CD8+ naive T−cells","label":"ns"},{"cell":"CD8+ T−cells","label":"ns"},{"cell":"CD8+ Tcm","label":"*"},{"cell":"CD8+ Tem","label":"ns"},{"cell":"cDC","label":"ns"},{"cell":"Chondrocytes","label":"ns"},{"cell":"Class−switched memory B−cells","label":"*"},{"cell":"CLP","label":"ns"},{"cell":"CMP","label":"ns"},{"cell":"DC","label":"***"},{"cell":"Endothelial cells","label":"ns"},{"cell":"Eosinophils","label":"ns"},{"cell":"Epithelial cells","label":"*"},{"cell":"Erythrocytes","label":"ns"},{"cell":"Fibroblasts","label":"**"},{"cell":"GMP","label":"**"},{"cell":"Hepatocytes","label":"ns"},{"cell":"HSC","label":"ns"},{"cell":"iDC","label":"*"},{"cell":"Keratinocytes","label":"**"},{"cell":"ly Endothelial cells","label":"ns"},{"cell":"Macrophages","label":"***"},{"cell":"Macrophages M1","label":"**"},{"cell":"Macrophages M2","label":"*"},{"cell":"Mast cells","label":"ns"},{"cell":"Megakaryocytes","label":"ns"},{"cell":"Melanocytes","label":"ns"},{"cell":"Memory B−cells","label":"ns"},{"cell":"MEP","label":"ns"},{"cell":"Mesangial cells","label":"ns"},{"cell":"Monocytes","label":"ns"},{"cell":"MPP","label":"ns"},{"cell":"MSC","label":"ns"},{"cell":"mv Endothelial cells","label":"ns"},{"cell":"Myocytes","label":"ns"},{"cell":"naive B−cells","label":"ns"},{"cell":"Neurons","label":"ns"},{"cell":"Neutrophils","label":"ns"},{"cell":"NK cells","label":"ns"},{"cell":"NKT","label":"*"},{"cell":"Osteoblast","label":"ns"},{"cell":"pDC","label":"ns"},{"cell":"Pericytes","label":"ns"},{"cell":"Plasma cells","label":"ns"},{"cell":"Platelets","label":"ns"},{"cell":"Preadipocytes","label":"ns"},{"cell":"pro B−cells","label":"*"},{"cell":"Sebocytes","label":"*"},{"cell":"Skeletal muscle","label":"ns"},{"cell":"Smooth muscle","label":"ns"},{"cell":"Tgd cells","label":"*"},{"cell":"Th1 cells","label":"ns"},{"cell":"Th2 cells","label":"***"},{"cell":"Tregs","label":"*"},{"cell":"ImmuneScore","label":"***"},{"cell":"StromaScore","label":"ns"},{"cell":"MicroenvironmentScore","label":"ns"}
]
},
"encoding":{
"x":{"field":"cell","type":"nominal","sort":null,
"scale":{"type":"band","paddingInner":0.2,"paddingOuter":0.2,"domain":["aDC","Adipocytes","Astrocytes","B−cells","Basophils","CD4+ memory T−cells","CD4+ naive T−cells","CD4+ T−cells","CD4+ Tcm","CD4+ Tem","CD8+ naive T−cells","CD8+ T−cells","CD8+ Tcm","CD8+ Tem","cDC","Chondrocytes","Class−switched memory B−cells","CLP","CMP","DC","Endothelial cells","Eosinophils","Epithelial cells","Erythrocytes","Fibroblasts","GMP","Hepatocytes","HSC","iDC","Keratinocytes","ly Endothelial cells","Macrophages","Macrophages M1","Macrophages M2","Mast cells","Megakaryocytes","Melanocytes","Memory B−cells","MEP","Mesangial cells","Monocytes","MPP","MSC","mv Endothelial cells","Myocytes","naive B−cells","Neurons","Neutrophils","NK cells","NKT","Osteoblast","pDC","Pericytes","Plasma cells","Platelets","Preadipocytes","pro B−cells","Sebocytes","Skeletal muscle","Smooth muscle","Tgd cells","Th1 cells","Th2 cells","Tregs","ImmuneScore","StromaScore","MicroenvironmentScore"]},
"axis":{"title":"xCell","titleFont":"Liberation Sans","titleFontSize":53,"titleFontWeight":"normal","titleColor":"black","titleY":683,"titleBaseline":"alphabetic",
"labelAngle":-45,"labelAlign":"right","labelBaseline":"top","labelFont":"Liberation Sans","labelFontSize":41,"labelColor":"black","labelPadding":5,"labelLimit":3000,"labelOverlap":false,"labelFlush":false,
"tickSize":14,"tickWidth":4,"tickColor":"black","domainColor":"black","domainWidth":4.4,"grid":false}}
},
"layer":[
{"data":{"name":"box"},"mark":{"type":"rule","color":"black","strokeWidth":3.6},
 "encoding":{"xOffset":{"field":"group","type":"nominal","scale":{"domain":["low","high"],"paddingInner":0,"paddingOuter":0}},
 "y":{"field":"lo","type":"quantitative","scale":{"domain":[-0.0463,0.9908],"nice":false,"zero":false},
   "axis":{"title":"Expression","titleFont":"Liberation Sans","titleFontSize":53,"titleFontWeight":"normal","titleColor":"black","titlePadding":18,
   "values":[0,0.25,0.5,0.75],"format":".2f","labelFont":"Liberation Sans","labelFontSize":52,"labelColor":"black","labelPadding":12,
   "tickSize":16,"tickWidth":4.4,"tickColor":"black","domainColor":"black","domainWidth":4.4,"grid":false}},
 "y2":{"field":"hi"}}},
{"data":{"name":"box"},"mark":{"type":"bar","stroke":"black","strokeWidth":3.8,"opacity":1},
 "encoding":{"xOffset":{"field":"group","type":"nominal","scale":{"domain":["low","high"],"paddingInner":0,"paddingOuter":0}},
 "y":{"field":"q1","type":"quantitative"},"y2":{"field":"q3"},
 "fill":{"field":"group","type":"nominal","scale":{"domain":["low","high"],"range":["#00468B","#ED0000"]},
   "legend":{"title":"group","orient":"none","legendX":1603,"legendY":-181,"direction":"horizontal","titleOrient":"left","titleFont":"Liberation Sans","titleFontSize":53,"titleFontWeight":"normal","titleColor":"black","titlePadding":43,"titleBaseline":"middle",
   "labelFont":"Liberation Sans","labelFontSize":42,"labelColor":"black","labelOffset":43,"columnPadding":47,"padding":0,
   "symbolType":"M-1,-0.68H1V0.68H-1Z M0,-0.68V-1 M0,0.68V1 M-1,0H1","symbolSize":5625,"symbolStrokeColor":"black","symbolStrokeWidth":5,"symbolOpacity":1}}}},
{"data":{"name":"box"},"mark":{"type":"tick","color":"black","thickness":8,"size":23,"opacity":1},
 "encoding":{"xOffset":{"field":"group","type":"nominal","scale":{"domain":["low","high"],"paddingInner":0,"paddingOuter":0}},
 "y":{"field":"med","type":"quantitative"}}},
{"data":{"name":"out"},"mark":{"type":"point","filled":true,"color":"black","size":340,"opacity":1},
 "encoding":{"xOffset":{"field":"group","type":"nominal","scale":{"domain":["low","high"],"paddingInner":0,"paddingOuter":0}},
 "y":{"field":"v","type":"quantitative"}}},
{"data":{"name":"sig"},"mark":{"type":"text","font":"Liberation Sans","fontSize":40,"color":"black","baseline":"alphabetic","align":"center"},
 "encoding":{"y":{"datum":0.944,"type":"quantitative"},"text":{"field":"label"}}}
]
}
